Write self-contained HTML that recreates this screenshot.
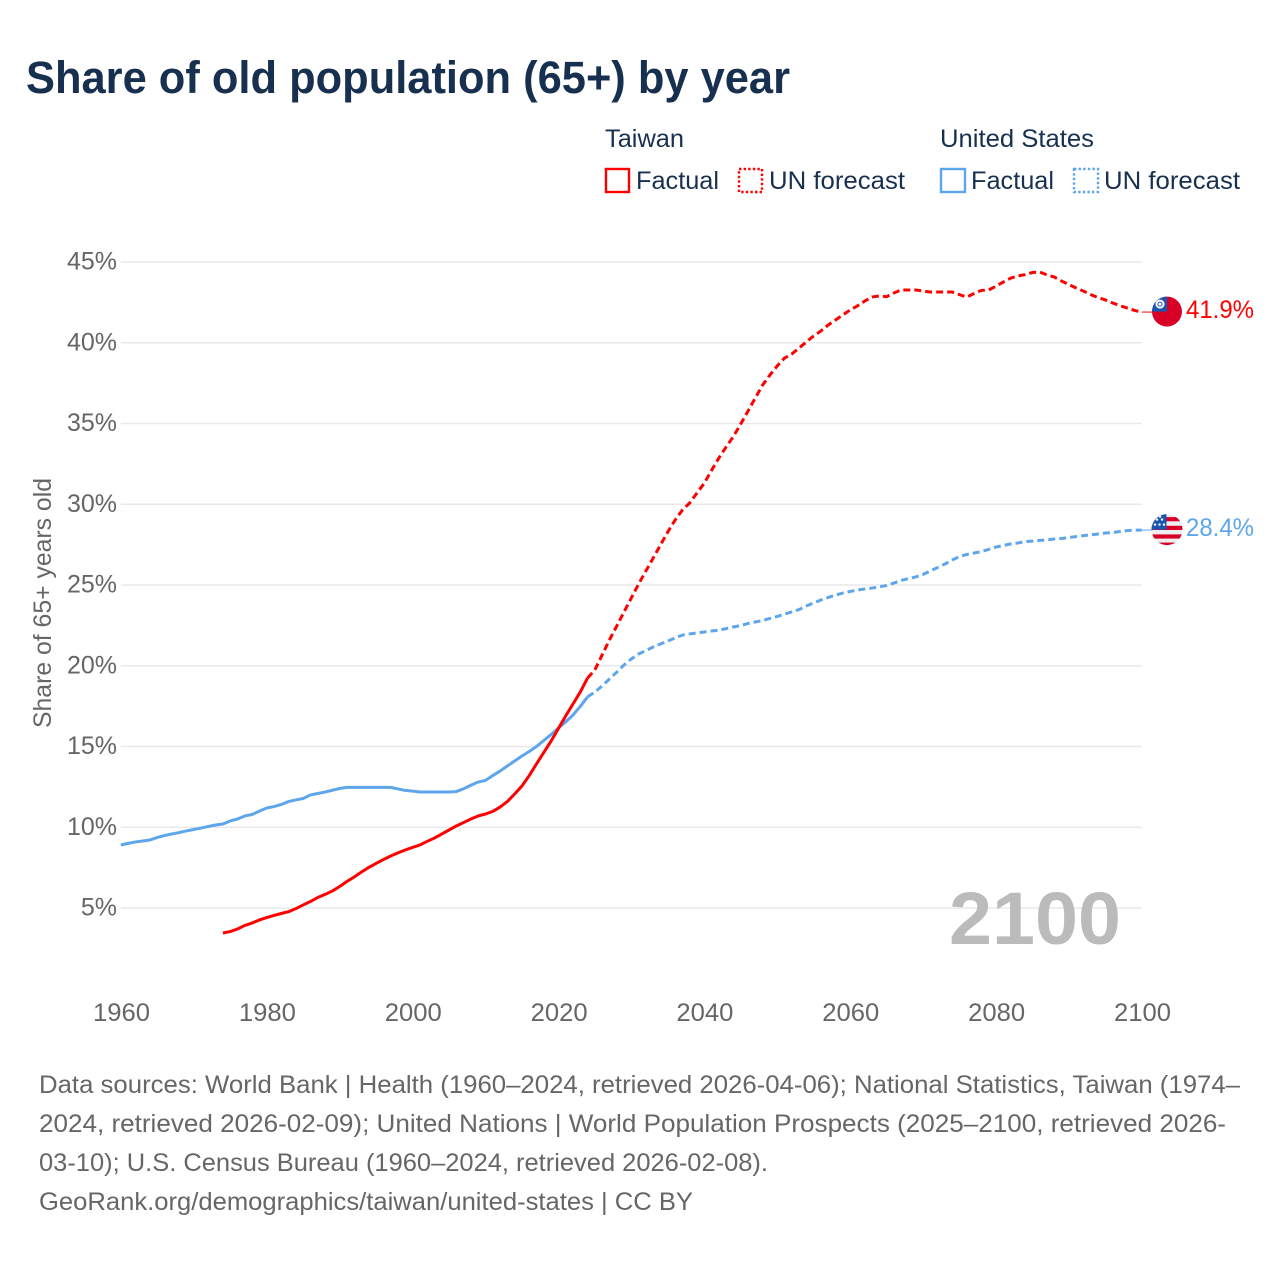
<!DOCTYPE html>
<html lang="en">
<head>
<meta charset="utf-8">
<title>Share of old population (65+) by year</title>
<style>
html,body{margin:0;padding:0;background:#fff;}
svg{display:block;font-family:"Liberation Sans",sans-serif;}
.legend{font-size:25px;fill:#18304f;}
.foot{font-size:25px;fill:#666;}
.tick{font-size:25px;fill:#666;}
</style>
</head>
<body>
<svg id="chart" xmlns="http://www.w3.org/2000/svg" width="1280" height="1280" viewBox="0 0 1280 1280">
  <defs>
    <clipPath id="clip-tw"><circle cx="0" cy="0" r="15"></circle></clipPath>
    <clipPath id="clip-us"><circle cx="0" cy="0" r="15.5"></circle></clipPath>
  </defs>
  <rect x="0" y="0" width="1280" height="1280" fill="#fff"></rect>
  <text x="26" y="93" font-size="45" font-weight="700" fill="#18304f" textLength="764" lengthAdjust="spacingAndGlyphs">Share of old population (65+) by year</text>

  <g>
    <text class="legend" x="605" y="147" textLength="79" lengthAdjust="spacingAndGlyphs">Taiwan</text>
    <rect x="606" y="169" width="23" height="23" fill="none" stroke="#ff0000" stroke-width="2.4"></rect>
    <text class="legend" x="636" y="189" textLength="83" lengthAdjust="spacingAndGlyphs">Factual</text>
    <rect x="739" y="169" width="23" height="23" fill="none" stroke="#ff0000" stroke-width="2.4" stroke-dasharray="2.4 2.2"></rect>
    <text class="legend" x="769" y="189" textLength="136" lengthAdjust="spacingAndGlyphs">UN forecast</text>
    <text class="legend" x="940" y="147" textLength="154" lengthAdjust="spacingAndGlyphs">United States</text>
    <rect x="941" y="169" width="24" height="23" fill="none" stroke="#5ea6eb" stroke-width="2.4"></rect>
    <text class="legend" x="971" y="189" textLength="83" lengthAdjust="spacingAndGlyphs">Factual</text>
    <rect x="1074" y="169" width="24" height="23" fill="none" stroke="#5ea6eb" stroke-width="2.4" stroke-dasharray="2.4 2.2"></rect>
    <text class="legend" x="1104" y="189" textLength="136" lengthAdjust="spacingAndGlyphs">UN forecast</text>
  </g>

  <g id="grid"></g>
  <g id="yticks"></g>
  <g id="xticks"></g>
  <text x="0" y="0" transform="translate(51,603) rotate(-90)" text-anchor="middle" font-size="25" fill="#666" textLength="250" lengthAdjust="spacingAndGlyphs">Share of 65+ years old</text>
  <text x="949" y="944" font-size="74" font-weight="700" fill="#bbbbbb" textLength="172" lengthAdjust="spacingAndGlyphs">2100</text>
  <g id="series"></g>

  <g id="flag-tw" clip-path="url(#clip-tw)">
    <rect x="-15" y="-15" width="30" height="30" fill="#d80027"></rect>
    <rect x="-15" y="-15" width="15" height="15" fill="#1a55b0"></rect>
    <circle cx="-7" cy="-7.5" r="4.5" fill="#fff"></circle>
    <circle cx="-7" cy="-7.5" r="2.6" fill="#1a55b0"></circle>
    <circle cx="-7" cy="-7.5" r="1.6" fill="#fff"></circle>
  </g>
  <g id="flag-us" clip-path="url(#clip-us)">
    <rect x="-16" y="-16" width="32" height="32" fill="#eeeeee"></rect>
    <rect x="-16" y="-12.5" width="32" height="4.2" fill="#d80027"></rect>
    <rect x="-16" y="-3.8" width="32" height="4.2" fill="#d80027"></rect>
    <rect x="-16" y="4.8" width="32" height="4.2" fill="#d80027"></rect>
    <rect x="-16" y="13" width="32" height="4.2" fill="#d80027"></rect>
    <rect x="-16" y="-16" width="15.5" height="16" fill="#1a55b0"></rect>
    <circle cx="-10" cy="-10" r="1.2" fill="#fff"></circle>
    <circle cx="-5" cy="-10" r="1.2" fill="#fff"></circle>
    <circle cx="-12" cy="-5" r="1.2" fill="#fff"></circle>
    <circle cx="-7.5" cy="-5" r="1.2" fill="#fff"></circle>
    <circle cx="-3" cy="-5" r="1.2" fill="#fff"></circle>
    <circle cx="-7" cy="-13" r="1.2" fill="#fff"></circle>
  </g>
  <g id="end-labels"></g>

  <g>
    <text class="foot" x="39" y="1093" textLength="1201" lengthAdjust="spacingAndGlyphs">Data sources: World Bank | Health (1960–2024, retrieved 2026-04-06); National Statistics, Taiwan (1974–</text>
    <text class="foot" x="39" y="1132" textLength="1187" lengthAdjust="spacingAndGlyphs">2024, retrieved 2026-02-09); United Nations | World Population Prospects (2025–2100, retrieved 2026-</text>
    <text class="foot" x="39" y="1171" textLength="729" lengthAdjust="spacingAndGlyphs">03-10); U.S. Census Bureau (1960–2024, retrieved 2026-02-08).</text>
    <text class="foot" x="39" y="1210" textLength="654" lengthAdjust="spacingAndGlyphs">GeoRank.org/demographics/taiwan/united-states | CC BY</text>
  </g>
</svg>
<script>
const yTickValues = [5, 10, 15, 20, 25, 30, 35, 40, 45];
const xTickYears = [1960, 1980, 2000, 2020, 2040, 2060, 2080, 2100];

const usFactualStart = 1960;
const usFactual = [8.9,9.0,9.09,9.15,9.21,9.37,9.49,9.58,9.67,9.77,9.86,9.95,10.05,10.14,10.2,10.39,10.51,10.7,10.79,11.0,
  11.19,11.28,11.41,11.59,11.69,11.78,12.0,12.09,12.18,12.29,12.4,12.47,12.47,12.47,12.47,12.47,12.47,12.47,12.37,12.28,
  12.24,12.18,12.18,12.18,12.18,12.18,12.21,12.38,12.6,12.8,12.9,13.2,13.48,13.79,14.1,14.41,14.69,15.0,15.37,15.74,
  16.15,16.52,16.95,17.48,18.07];

const usForecastStart = 2024;
const usForecast = [18.07,18.37,18.75,19.18,19.6,20.05,20.42,20.73,20.94,21.16,21.35,21.53,21.72,21.9,21.97,22.03,
  22.09,22.15,22.2,22.3,22.4,22.49,22.62,22.71,22.8,22.93,23.05,23.2,23.33,23.48,23.7,23.89,24.07,24.23,24.38,24.5,
  24.6,24.69,24.75,24.81,24.88,24.97,25.12,25.28,25.4,25.5,25.65,25.87,26.08,26.3,26.55,26.76,26.89,26.98,27.07,27.2,
  27.35,27.45,27.54,27.6,27.69,27.72,27.76,27.79,27.85,27.88,27.94,28.0,28.06,28.1,28.16,28.22,28.25,28.31,28.37,28.4,28.4];

const taiwanFactualStart = 1974;
const taiwanFactual = [3.45,3.54,3.7,3.92,4.07,4.26,4.41,4.54,4.66,4.77,4.96,5.19,5.4,5.65,5.84,6.05,6.33,6.64,6.92,7.23,
  7.51,7.76,8.0,8.22,8.41,8.59,8.75,8.9,9.12,9.33,9.58,9.83,10.08,10.29,10.51,10.7,10.82,10.98,11.25,11.59,12.06,12.55,
  13.2,13.92,14.63,15.34,16.11,16.89,17.63,18.37,19.24];

const taiwanForecastStart = 2024;
const taiwanForecast = [19.24,19.74,20.67,21.6,22.46,23.33,24.2,25.06,25.87,26.67,27.48,28.28,29.02,29.64,30.08,30.7,
  31.3,32.1,32.86,33.55,34.2,34.97,35.77,36.58,37.38,38.0,38.56,39.05,39.3,39.67,40.05,40.42,40.73,41.1,41.41,41.72,
  42.03,42.28,42.58,42.83,42.9,42.85,43.08,43.27,43.27,43.27,43.2,43.14,43.14,43.14,43.14,42.98,42.83,43.05,43.24,43.27,
  43.5,43.76,44.0,44.13,44.22,44.35,44.38,44.2,44.07,43.82,43.6,43.39,43.2,42.98,42.8,42.65,42.46,42.3,42.15,42.0,41.9];

const SVGNS = 'http://www.w3.org/2000/svg';
const RED = '#ff0000';
const BLUE = '#5ea6eb';
function xScale(year) { return 120.8 + (year - 1960) * 7.293; }
function yScale(v) { return 908 - (v - 5) * 16.15; }
function make(tag, attrs) {
  const el = document.createElementNS(SVGNS, tag);
  for (const k in attrs) el.setAttribute(k, attrs[k]);
  return el;
}
function pathFor(values, startYear) {
  return values.map(function (v, i) {
    return (i ? 'L' : 'M') + xScale(startYear + i).toFixed(2) + ' ' + yScale(v).toFixed(2);
  }).join(' ');
}

const gridG = document.getElementById('grid');
const yG = document.getElementById('yticks');
yTickValues.forEach(function (v) {
  const line = make('line', { x1: xScale(1960), x2: xScale(2100), y1: yScale(v), y2: yScale(v), stroke: '#e9e9e9', 'stroke-width': 1.4 });
  
  
  gridG.appendChild(line);
  const t = make('text', { x: 117, y: yScale(v) + 7.5, 'text-anchor': 'end', class: 'tick' });
  
  
  t.textContent = v + '%';
  yG.appendChild(t);
});

const xG = document.getElementById('xticks');
xTickYears.forEach(function (yr) {
  const t = make('text', { x: xScale(yr) + 0.7, y: 1021, 'text-anchor': 'middle', class: 'tick', textLength: 57, lengthAdjust: 'spacingAndGlyphs' });
  
  
  t.textContent = yr;
  xG.appendChild(t);
});

const seriesG = document.getElementById('series');

const usFactualLine = make('path', { d: pathFor(usFactual, usFactualStart), fill: 'none', stroke: BLUE, 'stroke-width': 3, 'stroke-linejoin': 'round' });


seriesG.appendChild(usFactualLine);

const usForecastLine = make('path', { d: pathFor(usForecast, usForecastStart), fill: 'none', stroke: BLUE, 'stroke-width': 3, 'stroke-dasharray': '7 4' });


seriesG.appendChild(usForecastLine);

const twFactualLine = make('path', { d: pathFor(taiwanFactual, taiwanFactualStart), fill: 'none', stroke: RED, 'stroke-width': 3, 'stroke-linejoin': 'round' });


seriesG.appendChild(twFactualLine);

const twForecastLine = make('path', { d: pathFor(taiwanForecast, taiwanForecastStart), fill: 'none', stroke: RED, 'stroke-width': 3, 'stroke-dasharray': '7 4' });


seriesG.appendChild(twForecastLine);

const twLast = taiwanForecast[taiwanForecast.length - 1];
const usLast = usForecast[usForecast.length - 1];

const twConnector = make('line', { x1: xScale(2100), x2: 1152, y1: yScale(twLast), y2: yScale(twLast), stroke: RED, 'stroke-width': 1 });


seriesG.appendChild(twConnector);

const usConnector = make('line', { x1: xScale(2100), x2: 1152, y1: yScale(usLast), y2: yScale(usLast), stroke: BLUE, 'stroke-width': 1 });


seriesG.appendChild(usConnector);

document.getElementById('flag-tw').setAttribute('transform', 'translate(1167,' + (yScale(twLast) - 0.5) + ')');
document.getElementById('flag-us').setAttribute('transform', 'translate(1167,' + (yScale(usLast) - 0.5) + ')');

const endG = document.getElementById('end-labels');
const twLabel = make('text', { x: 1186, y: yScale(twLast) + 6, 'font-size': 25, fill: RED, textLength: 68, lengthAdjust: 'spacingAndGlyphs' });


twLabel.textContent = twLast.toFixed(1) + '%';
endG.appendChild(twLabel);

const usLabel = make('text', { x: 1186, y: yScale(usLast) + 6, 'font-size': 25, fill: BLUE, textLength: 68, lengthAdjust: 'spacingAndGlyphs' });


usLabel.textContent = usLast.toFixed(1) + '%';
endG.appendChild(usLabel);
</script>
</body>
</html>
